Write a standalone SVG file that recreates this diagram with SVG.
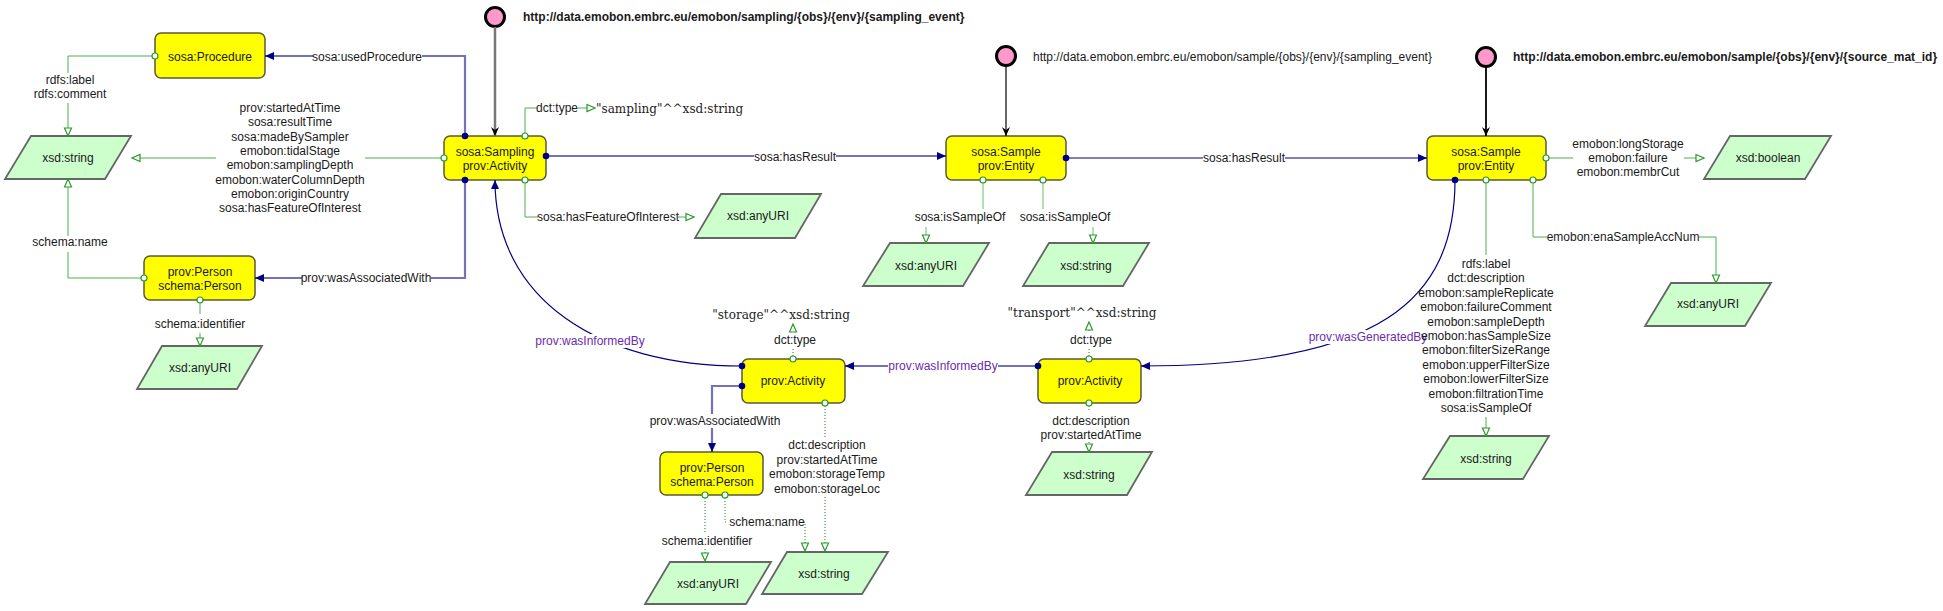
<svg xmlns="http://www.w3.org/2000/svg" width="1943" height="611" viewBox="0 0 1943 611">
<style>
text{font-family:"Liberation Sans",Arial,sans-serif;font-size:12px;fill:#1a1a1a}
.c{text-anchor:middle}
.b{font-weight:bold}
.lit{font-family:"DejaVu Serif","Liberation Serif",serif;font-size:12px;fill:#222}
.cls{fill:#ffff00;stroke:#5a5a3a;stroke-width:1.5}
.dt{fill:#ccffcc;stroke:#666;stroke-width:1.8}
.pin{fill:#ff99cc;stroke:#000;stroke-width:3}
.bl{fill:none;stroke:#000080;stroke-opacity:.55;stroke-width:2.2}
.bd{fill:none;stroke:#000080;stroke-width:1.2}
.g{fill:none;stroke:#4cae4c;stroke-width:1}
.gp{fill:none;stroke:#9bd49b;stroke-width:1.5}
.gd{fill:none;stroke:#3a9a3a;stroke-width:1.2;stroke-dasharray:1 2}
.pb{fill:#000080}
.pg{fill:#fff;stroke:#2a9a2a;stroke-width:1.2}
.bg{fill:#fff}
.pu{fill:#6a2cb0}
</style>
<defs>
<marker id="ab" markerUnits="userSpaceOnUse" markerWidth="10" markerHeight="10" viewBox="0 0 10 10" refX="9" refY="5" orient="auto"><path d="M0,1 L9,5 L0,9 z" fill="#000080"/></marker>
<marker id="ag" markerUnits="userSpaceOnUse" markerWidth="10" markerHeight="10" viewBox="0 0 10 10" refX="9" refY="5" orient="auto"><path d="M1,1.5 L9,5 L1,8.5 z" fill="#fff" stroke="#2a9a2a" stroke-width="1.2"/></marker>
<marker id="ak" markerUnits="userSpaceOnUse" markerWidth="10" markerHeight="10" viewBox="0 0 10 10" refX="9" refY="5" orient="auto"><path d="M0,1 L9,5 L0,9 L3,5 z" fill="#000"/></marker>
</defs>
<rect width="1943" height="611" fill="#fff"/>

<g id="pin-sampling"><circle class="pin" cx="495" cy="17" r="9.5"/><text class="b" x="523" y="21">http://data.emobon.embrc.eu/emobon/sampling/{obs}/{env}/{sampling_event}</text></g>
<g id="pin-sample"><circle class="pin" cx="1006" cy="56" r="9.5"/><text x="1033" y="61">http://data.emobon.embrc.eu/emobon/sample/{obs}/{env}/{sampling_event}</text></g>
<g id="pin-sample-src"><circle class="pin" cx="1486" cy="57" r="9.5"/><text class="b" x="1513" y="61">http://data.emobon.embrc.eu/emobon/sample/{obs}/{env}/{source_mat_id}</text></g>

<g id="procedure"><rect class="cls" x="155" y="33" width="110" height="45" rx="6"/><text class="c" x="210" y="61">sosa:Procedure</text></g>
<g id="sampling"><rect class="cls" x="444" y="136" width="102" height="44" rx="6"/><text class="c" x="495" y="156">sosa:Sampling</text><text class="c" x="495" y="170">prov:Activity</text></g>
<g id="person1"><rect class="cls" x="144" y="256" width="111" height="44" rx="6"/><text class="c" x="200" y="276">prov:Person</text><text class="c" x="200" y="290">schema:Person</text></g>
<g id="sample1"><rect class="cls" x="946" y="136" width="120" height="44" rx="6"/><text class="c" x="1006" y="156">sosa:Sample</text><text class="c" x="1006" y="170">prov:Entity</text></g>
<g id="sample2"><rect class="cls" x="1427" y="136" width="119" height="44" rx="6"/><text class="c" x="1486" y="156">sosa:Sample</text><text class="c" x="1486" y="170">prov:Entity</text></g>
<g id="storage"><rect class="cls" x="742" y="359" width="103" height="44" rx="6"/><text class="c" x="793" y="385">prov:Activity</text></g>
<g id="transport"><rect class="cls" x="1038" y="359" width="103" height="44" rx="6"/><text class="c" x="1090" y="385">prov:Activity</text></g>
<g id="person2"><rect class="cls" x="660" y="452" width="103" height="43" rx="6"/><text class="c" x="712" y="472">prov:Person</text><text class="c" x="712" y="486">schema:Person</text></g>

<g id="dt-string1"><polygon class="dt" points="31,136 131,136 105,179 5,179"/><text class="c" x="68" y="162">xsd:string</text></g>
<g id="dt-anyuri1"><polygon class="dt" points="162,346 262,346 237,389 137,389"/><text class="c" x="200" y="372">xsd:anyURI</text></g>
<g id="dt-anyuri-foi"><polygon class="dt" points="721,194 821,194 795,238 695,238"/><text class="c" x="758" y="220">xsd:anyURI</text></g>
<g id="dt-anyuri2"><polygon class="dt" points="890,243 989,243 963,286 863,286"/><text class="c" x="926" y="270">xsd:anyURI</text></g>
<g id="dt-string2"><polygon class="dt" points="1049,243 1149,243 1123,286 1023,286"/><text class="c" x="1086" y="270">xsd:string</text></g>
<g id="dt-boolean"><polygon class="dt" points="1730,136 1831,136 1805,179 1704,179"/><text class="c" x="1768" y="162">xsd:boolean</text></g>
<g id="dt-anyuri-ena"><polygon class="dt" points="1671,283 1771,283 1745,326 1645,326"/><text class="c" x="1708" y="308">xsd:anyURI</text></g>
<g id="dt-string3"><polygon class="dt" points="1450,436 1549,436 1523,479 1423,479"/><text class="c" x="1486" y="463">xsd:string</text></g>
<g id="dt-anyuri3"><polygon class="dt" points="670,562 771,562 746,604 645,604"/><text class="c" x="708" y="588">xsd:anyURI</text></g>
<g id="dt-string4"><polygon class="dt" points="787,552 888,552 862,594 762,594"/><text class="c" x="824" y="578">xsd:string</text></g>
<g id="dt-string5"><polygon class="dt" points="1052,452 1152,452 1127,495 1026,495"/><text class="c" x="1089" y="479">xsd:string</text></g>

<g id="lit-sampling"><text class="lit" x="596" y="113">"sampling"^^xsd:string</text></g>
<g id="lit-storage"><text class="lit c" x="781" y="319">"storage"^^xsd:string</text></g>
<g id="lit-transport"><text class="lit c" x="1082" y="317">"transport"^^xsd:string</text></g>

<g id="connectors">
  <path d="M495,27 V136" fill="none" stroke="#777" stroke-width="2.5" marker-end="url(#ak)"/>
  <path d="M1006,66 V136" fill="none" stroke="#000" stroke-width="1.2" marker-end="url(#ak)"/>
  <path d="M1486,67 V136" fill="none" stroke="#000" stroke-width="1.8" marker-end="url(#ak)"/>

  <path class="bl" d="M465,136 V56 H265" marker-end="url(#ab)"/>
  <rect class="bg" x="313" y="50" width="109" height="14"/>
  <text class="c" x="367" y="61">sosa:usedProcedure</text>

  <path class="bl" d="M465,180 V278 H255" marker-end="url(#ab)"/>
  <rect class="bg" x="302" y="271" width="129" height="14"/>
  <text class="c" x="366" y="282">prov:wasAssociatedWith</text>

  <path class="bl" d="M546,156 H946" marker-end="url(#ab)"/>
  <rect class="bg" x="754" y="150" width="82" height="14"/>
  <text class="c" x="795" y="161">sosa:hasResult</text>

  <path class="bd" d="M1066,158 H1427" marker-end="url(#ab)"/>
  <rect class="bg" x="1203" y="151" width="82" height="14"/>
  <text class="c" x="1244" y="162">sosa:hasResult</text>

  <path class="bd" d="M742,366 C600,366 495,300 495,180" marker-end="url(#ab)"/>
  <rect class="bg" x="536" y="334" width="109" height="14"/>
  <text class="c pu" x="590" y="345">prov:wasInformedBy</text>

  <path class="bl" d="M1038,366 H845" marker-end="url(#ab)"/>
  <rect class="bg" x="888" y="359" width="110" height="14"/>
  <text class="c pu" x="943" y="370">prov:wasInformedBy</text>

  <path class="bd" d="M1455,180 C1455,300 1380,366 1141,366" marker-end="url(#ab)"/>
  <rect class="bg" x="1310" y="330" width="116" height="14"/>
  <text class="c pu" x="1368" y="341">prov:wasGeneratedBy</text>

  <path class="bl" d="M742,386 H712 V452" marker-end="url(#ab)"/>
  <rect class="bg" x="651" y="414" width="129" height="14"/>
  <text class="c" x="715" y="425">prov:wasAssociatedWith</text>

  <path class="g" d="M155,56 H68 V73"/>
  <path class="g" d="M68,103 V136" marker-end="url(#ag)"/>
  <text class="c" x="70" y="84">rdfs:label</text>
  <text class="c" x="70" y="98">rdfs:comment</text>

  <path class="g" d="M444,158 H365"/>
  <path class="g" d="M216,158 H132" marker-end="url(#ag)"/>
  <text class="c" x="290" y="112">prov:startedAtTime<tspan x="290" dy="14.3">sosa:resultTime</tspan><tspan x="290" dy="14.3">sosa:madeBySampler</tspan><tspan x="290" dy="14.3">emobon:tidalStage</tspan><tspan x="290" dy="14.3">emobon:samplingDepth</tspan><tspan x="290" dy="14.3">emobon:waterColumnDepth</tspan><tspan x="290" dy="14.3">emobon:originCountry</tspan><tspan x="290" dy="14.3">sosa:hasFeatureOfInterest</tspan></text>

  <path class="g" d="M144,278 H68 V252"/>
  <path class="g" d="M68,236 V179" marker-end="url(#ag)"/>
  <text class="c" x="70" y="246">schema:name</text>

  <path class="g" d="M200,300 V314"/>
  <path class="g" d="M200,333 V346" marker-end="url(#ag)"/>
  <text class="c" x="200" y="328">schema:identifier</text>

  <path class="g" d="M525,136 V108 H537"/>
  <path class="g" d="M578,108 H595" marker-end="url(#ag)"/>
  <text class="c" x="557" y="112">dct:type</text>

  <path class="g" d="M525,180 V217 H538"/>
  <path class="g" d="M678,217 H694" marker-end="url(#ag)"/>
  <text class="c" x="608" y="221">sosa:hasFeatureOfInterest</text>

  <path class="gp" d="M983,180 V209"/>
  <path class="gp" d="M926,227 V243" marker-end="url(#ag)"/>
  <text class="c" x="960" y="221">sosa:isSampleOf</text>

  <path class="gp" d="M1043,180 V209"/>
  <path class="gp" d="M1093,227 V243" marker-end="url(#ag)"/>
  <text class="c" x="1065" y="221">sosa:isSampleOf</text>

  <path class="g" d="M1546,158 H1573"/>
  <path class="g" d="M1684,158 H1704" marker-end="url(#ag)"/>
  <text class="c" x="1628" y="148">emobon:longStorage<tspan x="1628" dy="14">emobon:failure</tspan><tspan x="1628" dy="14">emobon:membrCut</tspan></text>

  <path class="g" d="M1533,180 V237 H1547"/>
  <path class="g" d="M1699,237 H1716 V283" marker-end="url(#ag)"/>
  <text class="c" x="1623" y="241">emobon:enaSampleAccNum</text>

  <path class="g" d="M1486,180 V255"/>
  <path class="g" d="M1486,417 V436" marker-end="url(#ag)"/>
  <text class="c" x="1486" y="268">rdfs:label<tspan x="1486" dy="14.4">dct:description</tspan><tspan x="1486" dy="14.4">emobon:sampleReplicate</tspan><tspan x="1486" dy="14.4">emobon:failureComment</tspan><tspan x="1486" dy="14.4">emobon:sampleDepth</tspan><tspan x="1486" dy="14.4">emobon:hasSampleSize</tspan><tspan x="1486" dy="14.4">emobon:filterSizeRange</tspan><tspan x="1486" dy="14.4">emobon:upperFilterSize</tspan><tspan x="1486" dy="14.4">emobon:lowerFilterSize</tspan><tspan x="1486" dy="14.4">emobon:filtrationTime</tspan><tspan x="1486" dy="14.4">sosa:isSampleOf</tspan></text>

  <path class="gd" d="M793,359 V349"/>
  <path class="gd" d="M793,332 V324" marker-end="url(#ag)"/>
  <text class="c" x="795" y="344">dct:type</text>

  <path class="gd" d="M825,403 V437"/>
  <path class="gd" d="M825,497 V551" marker-end="url(#ag)"/>
  <text class="c" x="827" y="449">dct:description<tspan x="827" dy="14.6">prov:startedAtTime</tspan><tspan x="827" dy="14.6">emobon:storageTemp</tspan><tspan x="827" dy="14.6">emobon:storageLoc</tspan></text>

  <path class="gd" d="M705,495 V533"/>
  <path class="gd" d="M705,549 V561" marker-end="url(#ag)"/>
  <text class="c" x="707" y="545">schema:identifier</text>

  <path class="gd" d="M725,495 V522 H728"/>
  <path class="gd" d="M804,522 H805 V551" marker-end="url(#ag)"/>
  <text class="c" x="767" y="526">schema:name</text>

  <path class="gd" d="M1089,359 V349"/>
  <path class="gd" d="M1089,331 V322" marker-end="url(#ag)"/>
  <text class="c" x="1091" y="344">dct:type</text>

  <path class="gd" d="M1089,403 V412"/>
  <path class="gd" d="M1089,442 V452" marker-end="url(#ag)"/>
  <text class="c" x="1091" y="425">dct:description<tspan x="1091" dy="14">prov:startedAtTime</tspan></text>

  <circle class="pb" cx="465" cy="136" r="3.3"/>
  <circle class="pb" cx="465" cy="180" r="3.3"/>
  <circle class="pb" cx="546" cy="156" r="3.3"/>
  <circle class="pb" cx="1066" cy="158" r="3.3"/>
  <circle class="pb" cx="1455" cy="180" r="3.3"/>
  <circle class="pb" cx="742" cy="366" r="3.3"/>
  <circle class="pb" cx="742" cy="386" r="3.3"/>
  <circle class="pb" cx="1038" cy="366" r="3.3"/>
  <circle class="pg" cx="155" cy="56" r="3"/>
  <circle class="pg" cx="444" cy="158" r="3"/>
  <circle class="pg" cx="525" cy="136" r="3"/>
  <circle class="pg" cx="525" cy="180" r="3"/>
  <circle class="pg" cx="144" cy="278" r="3"/>
  <circle class="pg" cx="200" cy="300" r="3"/>
  <circle class="pg" cx="983" cy="180" r="3"/>
  <circle class="pg" cx="1043" cy="180" r="3"/>
  <circle class="pg" cx="1546" cy="158" r="3"/>
  <circle class="pg" cx="1486" cy="180" r="3"/>
  <circle class="pg" cx="1533" cy="180" r="3"/>
  <circle class="pg" cx="793" cy="359" r="3"/>
  <circle class="pg" cx="825" cy="403" r="3"/>
  <circle class="pg" cx="1089" cy="359" r="3"/>
  <circle class="pg" cx="1089" cy="403" r="3"/>
  <circle class="pg" cx="705" cy="495" r="3"/>
  <circle class="pg" cx="725" cy="495" r="3"/>
</g>
</svg>
